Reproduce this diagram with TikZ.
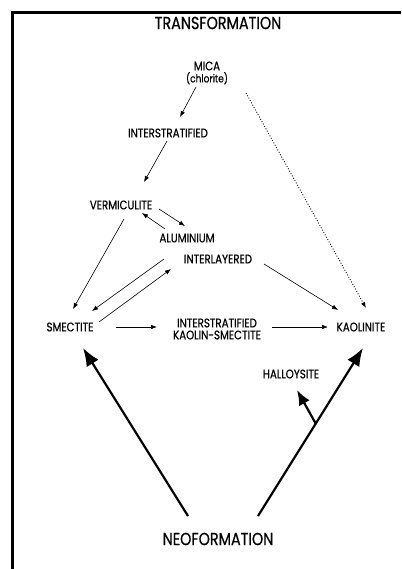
\documentclass[tikz,border=0pt]{standalone}
\usepackage{fontspec}
\setmainfont{Poppins}[FakeStretch=0.82, FakeBold=0.6]
\usetikzlibrary{arrows.meta,calc,positioning}

\tikzset{
    mineral/.style={font=\fontsize{12.5}{12}\selectfont, inner sep=1pt, align=center},
    process/.style={font=\fontsize{17.5}{18}\selectfont, inner sep=1pt},
    link/.style={-{Latex[length=6pt,width=4.5pt]}, line width=0.6pt},
    weak/.style={link, line width=0.9pt, dash pattern=on 0.9pt off 1.8pt},
    growth/.style={-{Latex[length=18pt,width=14pt]}, line width=2.2pt},
}

\begin{document}
\begin{tikzpicture}[x=1pt,y=-1pt]
    \useasboundingbox (0,0) rectangle (401,569);
    % frame, top and left sides only
    \draw[line width=3pt] (12.5,569) -- (12.5,12.5) -- (401,12.5);

    \node[process] (transf) at (218,23) {TRANSFORMATION};
    \node[process] (neo) at (218,539) {NEOFORMATION};

    \node[mineral] (mica) at (207,73) {MICA\\{\fontsize{11}{11}\selectfont(chlorite)}};
    \node[mineral] (inter) at (168,133) {INTERSTRATIFIED};
    \node[mineral] (verm) at (121,205) {VERMICULITE};
    \node[mineral] (alum) at (187,238) {ALUMINIUM};
    \node[mineral] (interl) at (218,259) {INTERLAYERED};
    \node[mineral] (smec) at (70,327) {SMECTITE};
    \node[mineral] (iks) at (217,329) {INTERSTRATIFIED\\KAOLIN-SMECTITE};
    \node[mineral] (kao) at (361,327) {KAOLINITE};
    \node[mineral] (hal) at (291,374) {HALLOYSITE};

    % transformation paths
    \draw[link] ($(mica)+(-11,14)$) -- ($(inter)+(12,-16)$);
    \draw[link] ($(inter)+(-1,8)$) -- ($(verm)+(23,-23)$);
    \draw[weak] ($(mica)+(39,20)$) -- ($(kao)+(5,-19)$);
    \draw[link] ($(alum)+(-22,-9)$) -- ($(verm)+(21,8)$);
    \draw[link] ($(verm)+(38,4)$) -- ($(alum)+(-2,-12)$);
    \draw[link] ($(verm)+(3,14)$) -- ($(smec)+(3,-18)$);
    \draw[link] ($(interl)+(-54,0)$) -- ($(smec)+(22,-16)$);
    \draw[link] ($(smec)+(29,-5)$) -- ($(interl)+(-47,10)$);
    \draw[link] ($(interl)+(46,5)$) -- ($(kao)+(-23,-17)$);
    \draw[link] ($(smec)+(46,0)$) -- ($(iks)+(-60,-2)$);
    \draw[link] ($(iks)+(55,-2)$) -- ($(kao)+(-33,0)$);

    % neoformation paths
    \coordinate (neoL) at ($(neo)+(-30,-23)$);
    \coordinate (neoR) at ($(neo)+(40,-23)$);
    \coordinate (kaoTip) at ($(kao)+(2,21)$);
    \coordinate (halFoot) at ($(neoR)!0.55!(kaoTip)$);
    \draw[growth] (neoL) -- ($(smec)+(13,21)$);
    \draw[growth] (neoR) -- (kaoTip);
    \draw[growth, -{Latex[length=15pt,width=12pt]}] (halFoot) -- ($(hal)+(6,16)$);
\end{tikzpicture}
\end{document}
